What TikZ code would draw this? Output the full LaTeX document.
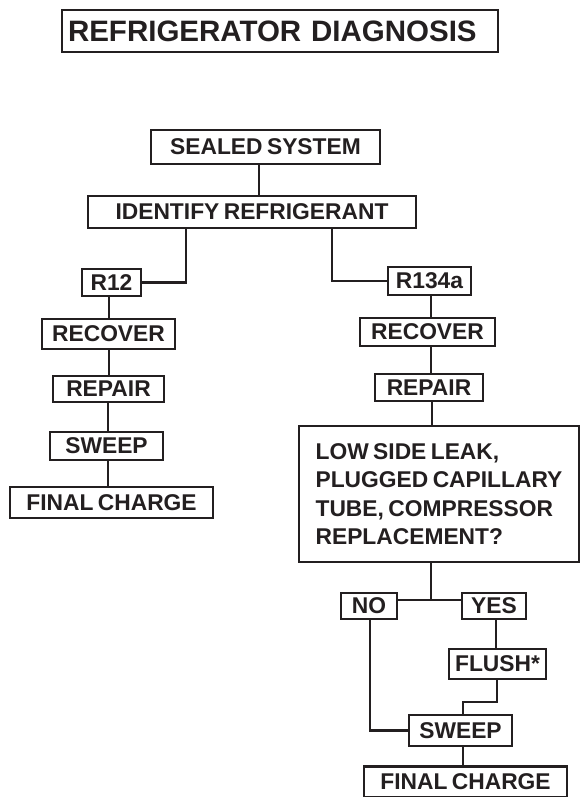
\documentclass[tikz,border=0pt]{standalone}
\usepackage{fontspec}
\setmainfont{Liberation Sans}[WordSpace=0.7]
\definecolor{ink}{RGB}{35,31,32}
\begin{document}
\begin{tikzpicture}[x=1pt,y=-1pt,
  line width=2.2pt, draw=ink,
  box/.style={draw=ink, line width=2.2pt, inner sep=0pt, text=ink,
    font=\fontsize{22.8}{28.5}\selectfont\bfseries},
  link/.style={draw=ink, line width=2.2pt}]
\useasboundingbox (0,0) rectangle (580,797);
% title
\node[box, font=\fontsize{29.5}{34}\selectfont\bfseries, inner xsep=6pt,
  text width=424pt, align=left, minimum height=42pt] (title) at (280,31)
  {REFRIGERATOR DIAGNOSIS};
% main
\node[box, minimum width=229pt, minimum height=34pt] (sealed) at (265.5,147) {SEALED SYSTEM};
\node[box, minimum width=328pt, minimum height=32pt] (ident) at (252,212) {IDENTIFY REFRIGERANT};
% left branch
\node[box, minimum width=59pt, minimum height=27pt] (r12) at (111.5,282.5) {R12};
\node[box, minimum width=133pt, minimum height=30pt] (recL) at (108.5,334) {RECOVER};
\node[box, minimum width=111pt, minimum height=26pt] (repL) at (108.5,389) {REPAIR};
\node[box, minimum width=113pt, minimum height=28pt] (swL) at (106.5,446) {SWEEP};
\node[box, minimum width=203pt, minimum height=31pt] (finL) at (111.5,502.5) {FINAL CHARGE};
% right branch
\node[box, minimum width=83pt, minimum height=28pt] (r134) at (429.5,281) {R134a};
\node[box, minimum width=135pt, minimum height=28pt] (recR) at (427.5,332) {RECOVER};
\node[box, minimum width=108pt, minimum height=27pt] (repR) at (429,387.5) {REPAIR};
\node[box, align=left, minimum width=280pt, minimum height=136pt] (big) at (439,494)
  {LOW SIDE LEAK,\\PLUGGED CAPILLARY\\TUBE, COMPRESSOR\\REPLACEMENT?};
\node[box, minimum width=56pt, minimum height=26pt] (no) at (369,606) {NO};
\node[box, minimum width=64pt, minimum height=26pt] (yes) at (494,606) {YES};
\node[box, minimum width=97pt, minimum height=30pt] (flush) at (497.5,664) {FLUSH*};
\node[box, minimum width=103pt, minimum height=31pt] (swR) at (460.5,730.5) {SWEEP};
\node[box, minimum width=203pt, minimum height=31pt] (finR) at (465.5,782) {FINAL CHARGE};
% helper coordinates
\coordinate (xs) at (259,0);
\coordinate (dl) at (186,0);
\coordinate (dr) at (332,0);
\coordinate (xl) at (109,0);
\coordinate (xl2) at (108,0);
\coordinate (xr) at (431,0);
\coordinate (xr2) at (432,0);
\coordinate (yb) at (431,600);
\coordinate (xy) at (496,0);
\coordinate (xf) at (497,0);
\coordinate (k) at (463,702);
\coordinate (xn) at (370,0);
% connectors
\draw[link] (sealed.south -| xs) -- (ident.north -| xs);
\draw[link] (ident.south -| dl) |- (r12.east);
\draw[link] (ident.south -| dr) |- (r134.west);
\draw[link] (r12.south -| xl) -- (recL.north -| xl);
\draw[link] (recL.south -| xl) -- (repL.north -| xl);
\draw[link] (repL.south -| xl2) -- (swL.north -| xl2);
\draw[link] (swL.south -| xl2) -- (finL.north -| xl2);
\draw[link] (r134.south -| xr) -- (recR.north -| xr);
\draw[link] (recR.south -| xr) -- (repR.north -| xr);
\draw[link] (repR.south -| xr2) -- (big.north -| xr2);
\draw[link] (big.south -| yb) -- (yb);
\draw[link] (no.east |- yb) -- (yes.west |- yb);
\draw[link] (yes.south -| xy) -- (flush.north -| xy);
\draw[link] (flush.south -| xf) |- (k) -- (swR.north -| k);
\draw[link] (no.south -| xn) |- (swR.west);
\draw[link] (swR.south -| k) -- (finR.north -| k);
\end{tikzpicture}
\end{document}
